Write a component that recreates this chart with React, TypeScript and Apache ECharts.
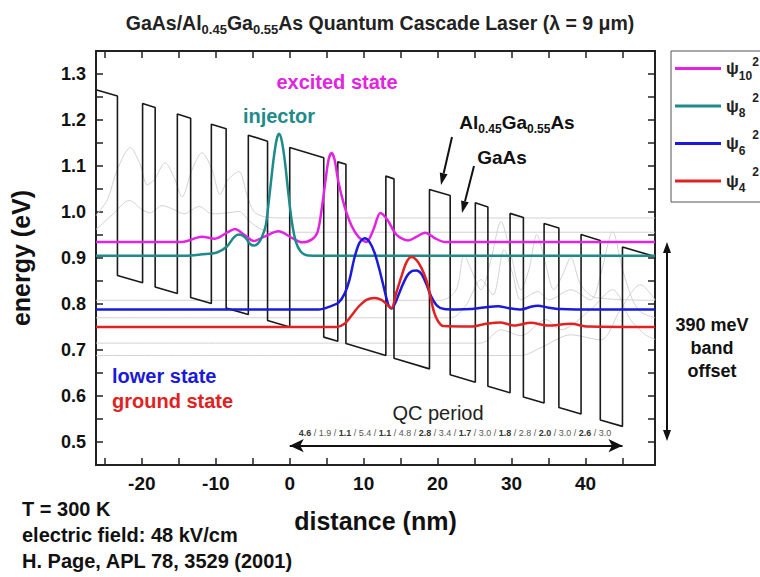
import React, { useEffect, useRef } from 'react';
import * as echarts from 'echarts';

const FONT = "'Liberation Sans', Arial, Helvetica, sans-serif";

// axis ticks / labels (nm)
const xTickValues = [-25, -20, -15, -10, -5, 0, 5, 10, 15, 20, 25, 30, 35, 40, 45];
const xLabelValues = [-20, -10, 0, 10, 20, 30, 40];

// conduction band edge vertices [distance nm, energy eV]
const bandEdge: [number, number][] = [
  [-26.1, 1.265], [-23.3, 1.252], [-23.3, 0.862], [-19.9, 0.846], [-19.9, 1.236], [-18.2, 1.227],
  [-18.2, 0.837], [-15.2, 0.823], [-15.2, 1.213], [-13.4, 1.204], [-13.4, 0.814], [-10.6, 0.801],
  [-10.6, 1.191], [-8.6, 1.181], [-8.6, 0.791], [-5.6, 0.777], [-5.6, 1.167], [-3.0, 1.154],
  [-3.0, 0.764], [0, 0.750], [0, 1.140], [4.6, 1.118], [4.6, 0.728], [6.5, 0.719], [6.5, 1.109],
  [7.6, 1.104], [7.6, 0.714], [13.0, 0.688], [13.0, 1.078], [14.1, 1.072], [14.1, 0.682],
  [18.9, 0.659], [18.9, 1.049], [21.7, 1.036], [21.7, 0.646], [25.1, 0.630], [25.1, 1.020],
  [26.8, 1.011], [26.8, 0.621], [29.8, 0.607], [29.8, 0.997], [31.6, 0.988], [31.6, 0.598],
  [34.4, 0.585], [34.4, 0.975], [36.4, 0.965], [36.4, 0.575], [39.4, 0.561], [39.4, 0.951],
  [42.0, 0.938], [42.0, 0.548], [45.0, 0.534], [45.0, 0.924], [49.4, 0.903],
];

// |psi|^2 curves offset by their energy
const psi10: [number, number][] = [
  [-26.2, 0.935], [-14.56, 0.935], [-11.86, 0.946], [-10.11, 0.942], [-8.49, 0.955], [-7.41, 0.963],
  [-6.2, 0.951], [-4.85, 0.937], [-3.5, 0.946], [-1.52, 0.958], [0.27, 0.944], [1.62, 0.934],
  [2.96, 0.94], [3.77, 0.957], [4.31, 1.005], [4.85, 1.07], [5.26, 1.114], [5.66, 1.128],
  [6.06, 1.114], [6.6, 1.064], [7.41, 1.012], [8.36, 0.97], [9.3, 0.946], [10.38, 0.935],
  [11.32, 0.962], [12.26, 0.998], [13.21, 0.983], [14.42, 0.951], [16.04, 0.938], [17.12, 0.946],
  [18.33, 0.955], [19.54, 0.944], [20.89, 0.935], [49.4, 0.935],
];
const psi8: [number, number][] = [
  [-26.2, 0.905], [-14.15, 0.905], [-11.86, 0.908], [-9.84, 0.912], [-8.49, 0.925], [-7.55, 0.945],
  [-6.87, 0.951], [-6.06, 0.945], [-5.39, 0.931], [-4.85, 0.927], [-4.31, 0.931], [-3.77, 0.945],
  [-3.23, 0.972], [-2.7, 1.042], [-2.16, 1.118], [-1.75, 1.159], [-1.44, 1.17], [-1.08, 1.155],
  [-0.67, 1.112], [-0.27, 1.053], [0.27, 0.981], [0.81, 0.936], [1.48, 0.914], [2.29, 0.906],
  [3.64, 0.905], [49.4, 0.905],
];
const psi6: [number, number][] = [
  [-26.2, 0.788], [3.91, 0.788], [5.66, 0.796], [6.6, 0.803], [7.41, 0.822], [8.09, 0.853],
  [8.76, 0.901], [9.43, 0.933], [10.15, 0.943], [10.78, 0.935], [11.46, 0.912], [12.13, 0.875],
  [12.8, 0.831], [13.34, 0.798], [13.75, 0.79], [14.29, 0.803], [15.09, 0.835], [15.9, 0.862],
  [16.58, 0.872], [17.12, 0.873], [17.79, 0.866], [18.46, 0.844], [19.14, 0.816], [19.95, 0.796],
  [20.89, 0.789], [22.51, 0.788], [24.53, 0.789], [26.55, 0.793], [28.17, 0.795], [29.65, 0.791],
  [31.27, 0.788], [32.61, 0.794], [33.56, 0.796], [35.04, 0.792], [36.66, 0.789], [38.68, 0.788],
  [49.4, 0.788],
];
const psi4: [number, number][] = [
  [-26.2, 0.75], [6.33, 0.75], [7.41, 0.757], [8.36, 0.775], [9.3, 0.794], [10.38, 0.809],
  [11.46, 0.813], [12.4, 0.809], [13.21, 0.798], [13.75, 0.791], [14.42, 0.825], [15.09, 0.859],
  [15.77, 0.89], [16.44, 0.902], [17.12, 0.896], [17.79, 0.879], [18.46, 0.853], [19.0, 0.818],
  [19.54, 0.781], [20.08, 0.762], [20.75, 0.752], [24.53, 0.751], [26.55, 0.757], [28.57, 0.76],
  [30.32, 0.753], [32.61, 0.759], [34.91, 0.753], [38.01, 0.757], [40.3, 0.751], [49.4, 0.75],
];

// faint states of neighbouring periods
const grayA: [number, number][] = [
  [-26.2, 0.992], [-24.66, 1.027], [-23.32, 1.092], [-21.56, 1.14], [-20.22, 1.103], [-19.27, 1.059],
  [-18.33, 1.07], [-16.85, 1.107], [-15.63, 1.075], [-14.56, 1.033], [-13.21, 1.092], [-11.86, 1.129],
  [-10.51, 1.092], [-9.43, 1.038], [-8.36, 1.07], [-6.87, 1.088], [-5.8, 1.038], [-4.85, 1.001],
  [-3.5, 0.99], [-1.08, 0.987], [49.4, 0.987],
];
const grayB: [number, number][] = [
  [-26.2, 0.962], [-23.99, 0.994], [-21.7, 1.025], [-19.95, 1.005], [-18.87, 0.998], [-17.25, 1.014],
  [-15.63, 1.005], [-14.29, 0.996], [-12.26, 1.012], [-10.51, 0.996], [-8.49, 0.998], [-6.87, 1.001],
  [-5.39, 0.979], [-3.77, 0.962], [-1.75, 0.956], [49.4, 0.956],
];
const grayC: [number, number][] = [
  [-26.2, 0.808], [20.49, 0.808], [22.51, 0.831], [23.58, 0.907], [24.53, 0.875], [25.88, 0.831],
  [27.22, 0.896], [28.57, 0.979], [29.92, 0.907], [31.27, 0.831], [32.35, 0.875], [33.42, 0.951],
  [34.64, 0.885], [35.71, 0.831], [36.93, 0.864], [38.01, 0.901], [39.35, 0.842], [41.37, 0.814],
  [49.4, 0.808],
];
const grayD: [number, number][] = [
  [-26.2, 0.77], [21.83, 0.77], [23.85, 0.798], [25.88, 0.853], [27.49, 0.82], [28.98, 0.918],
  [30.19, 0.864], [31.27, 0.809], [33.56, 0.827], [35.04, 0.809], [38.01, 0.831], [40.7, 0.809],
  [42.05, 0.864], [43.67, 0.957], [45.01, 0.875], [46.36, 0.809], [47.44, 0.783], [49.4, 0.77],
];
const grayE: [number, number][] = [
  [-26.2, 0.715], [25.88, 0.715], [28.57, 0.744], [31.27, 0.731], [34.64, 0.766], [36.66, 0.744],
  [40.7, 0.788], [43.67, 0.831], [46.09, 0.766], [48.11, 0.733], [49.4, 0.723],
];
const grayF: [number, number][] = [
  [-26.2, 0.688], [31.27, 0.688], [33.96, 0.705], [38.01, 0.733], [42.05, 0.722], [44.74, 0.788],
  [47.44, 0.842], [49.4, 0.809],
];

// layer sequence of one period (nm), barriers in bold
const layerThickness = ['4.6', '1.9', '1.1', '5.4', '1.1', '4.8', '2.8', '3.4', '1.7', '3.0', '1.8', '2.8', '2.0', '3.0', '2.6', '3.0'];
const layerIsBarrier = [true, false, true, false, true, false, true, false, true, false, true, false, true, false, true, false];
const qcPeriod = [0, 45];

const legendNames = ['psi10', 'psi8', 'psi6', 'psi4'];
const legendSub: Record<string, string> = { psi10: '10', psi8: '8', psi6: '6', psi4: '4' };

const C_MAG = '#e124e1';
const C_TEAL = '#1f8a8a';
const C_BLUE = '#1a1ad8';
const C_RED = '#e02222';
const C_AX = '#222222';

function arrowEls(x1: number, y1: number, x2: number, y2: number, color: string, w: number, hl: number, hw: number, both = false) {
  const dx = x2 - x1, dy = y2 - y1;
  const len = Math.hypot(dx, dy);
  const ux = dx / len, uy = dy / len;
  const px = -uy, py = ux;
  const els: any[] = [];
  const sx = both ? x1 + ux * hl : x1, sy = both ? y1 + uy * hl : y1;
  const ex = x2 - ux * hl, ey = y2 - uy * hl;
  els.push({ type: 'line', shape: { x1: sx, y1: sy, x2: ex, y2: ey }, style: { stroke: color, lineWidth: w } });
  els.push({ type: 'polygon', shape: { points: [[x2, y2], [ex + px * hw / 2, ey + py * hw / 2], [ex - px * hw / 2, ey - py * hw / 2]] }, style: { fill: color } });
  if (both) {
    els.push({ type: 'polygon', shape: { points: [[x1, y1], [sx + px * hw / 2, sy + py * hw / 2], [sx - px * hw / 2, sy - py * hw / 2]] }, style: { fill: color } });
  }
  return els;
}

function txt(text: string, x: number, y: number, size: number, color: string, align = 'left', weight = 'bold') {
  return {
    type: 'text',
    z: 100,
    style: {
      text, x, y, fill: color,
      fontSize: size, fontWeight: weight, fontFamily: FONT,
      align, textAlign: align, verticalAlign: 'middle', textVerticalAlign: 'middle',
    },
  };
}

function lineSeries(name: string, data: [number, number][], color: string, width: number, z: number, smooth: number | boolean) {
  return {
    type: 'line', name, data, z,
    symbol: 'none', showSymbol: false, smooth,
    lineStyle: { color, width },
    itemStyle: { color },
    emphasis: { disabled: true },
    silent: true,
  };
}

export default function App() {
  const ref = useRef<HTMLDivElement>(null);
  useEffect(() => {
    const chart = echarts.init(ref.current!, null, { renderer: 'svg' });

    const layerRich = layerThickness.map((t, i) => `{${layerIsBarrier[i] ? 'b' : 'n'}|${t}}`).join('{n| / }');

    const option: any = {
      animation: false,
      backgroundColor: '#ffffff',
      title: {
        text: '{a|GaAs/Al}{s|0.45}{a|Ga}{s|0.55}{a|As Quantum Cascade Laser (λ = 9 μm)}',
        left: 'center',
        top: 5,
        textStyle: {
          rich: {
            a: { fontSize: 19.5, fontWeight: 'bold', fontFamily: FONT, color: C_AX, lineHeight: 26 },
            s: { fontSize: 13, fontWeight: 'bold', fontFamily: FONT, color: C_AX, lineHeight: 12, verticalAlign: 'bottom' },
          },
        },
      },
      grid: { left: 94, right: 105, top: 51, bottom: 112, containLabel: false },
      legend: {
        data: legendNames,
        orient: 'vertical',
        left: 671,
        top: 51,
        padding: [9, 13, 8, 4],
        itemGap: 16,
        itemWidth: 46,
        itemHeight: 3,
        icon: 'rect',
        borderColor: '#555',
        borderWidth: 1,
        selectedMode: false,
        formatter: (name: string) => `{p|ψ}{s|${legendSub[name]}}`,
        textStyle: {
          rich: {
            p: { fontSize: 17, fontWeight: 'bold', fontFamily: FONT, color: C_AX, lineHeight: 26 },
            s: { fontSize: 12, fontWeight: 'bold', fontFamily: FONT, color: C_AX, lineHeight: 12, verticalAlign: 'bottom' },
          },
        },
      },
      xAxis: [
        {
          type: 'value', min: -26.2, max: 49.4, position: 'bottom',
          axisLine: { show: true, onZero: false, lineStyle: { color: C_AX, width: 2 } },
          axisTick: { show: true, inside: true, length: 7, customValues: xTickValues, lineStyle: { color: C_AX, width: 1.5 } },
          axisLabel: { customValues: xLabelValues, margin: 9, fontSize: 19, fontWeight: 'bold', fontFamily: FONT, color: '#111' },
          splitLine: { show: false },
          name: 'distance (nm)', nameLocation: 'middle', nameGap: 43,
          nameTextStyle: { fontSize: 25, fontWeight: 'bold', fontFamily: FONT, color: '#111' },
        },
        {
          type: 'value', min: -26.2, max: 49.4, position: 'top',
          axisLine: { show: true, onZero: false, lineStyle: { color: C_AX, width: 2 } },
          axisTick: { show: true, inside: true, length: 7, customValues: xTickValues, lineStyle: { color: C_AX, width: 1.5 } },
          axisLabel: { show: false },
          splitLine: { show: false },
        },
      ],
      yAxis: [
        {
          type: 'value', min: 0.45, max: 1.35, interval: 0.05, position: 'left',
          axisLine: { show: true, onZero: false, lineStyle: { color: C_AX, width: 2 } },
          axisTick: { show: true, inside: true, length: 7, lineStyle: { color: C_AX, width: 1.5 } },
          axisLabel: {
            margin: 10, fontSize: 18, fontWeight: 'bold', fontFamily: FONT, color: '#111',
            formatter: (v: number) => { const r = Math.round(v * 100); return r % 10 === 0 ? (r / 100).toFixed(1) : ''; },
          },
          splitLine: { show: false },
          name: 'energy (eV)', nameLocation: 'middle', nameGap: 63,
          nameTextStyle: { fontSize: 25, fontWeight: 'bold', fontFamily: FONT, color: '#111' },
        },
        {
          type: 'value', min: 0.45, max: 1.35, interval: 0.05, position: 'right',
          axisLine: { show: true, onZero: false, lineStyle: { color: C_AX, width: 2 } },
          axisTick: { show: true, inside: true, length: 7, lineStyle: { color: C_AX, width: 1.5 } },
          axisLabel: { show: false },
          splitLine: { show: false },
        },
      ],
      series: [
        lineSeries('grayA', grayA, '#d2d2d2', 1, 1, 0.3),
        lineSeries('grayB', grayB, '#d2d2d2', 1, 1, 0.3),
        lineSeries('grayC', grayC, '#d2d2d2', 1, 1, 0.3),
        lineSeries('grayD', grayD, '#d2d2d2', 1, 1, 0.3),
        lineSeries('grayE', grayE, '#d2d2d2', 1, 1, 0.3),
        lineSeries('grayF', grayF, '#d2d2d2', 1, 1, 0.3),
        {
          ...lineSeries('band', bandEdge, '#1a1a1a', 1.6, 3, false),
          markLine: {
            silent: true,
            symbol: ['arrow', 'arrow'],
            symbolSize: [10, 14],
            label: { show: false },
            lineStyle: { color: '#111', width: 2, type: 'solid' },
            data: [[{ coord: [qcPeriod[0], 0.492] }, { coord: [qcPeriod[1], 0.492] }]],
          },
        },
        lineSeries('psi10', psi10, C_MAG, 2.5, 5, 0.3),
        lineSeries('psi8', psi8, C_TEAL, 2.5, 5, 0.3),
        lineSeries('psi6', psi6, C_BLUE, 2.5, 5, 0.3),
        lineSeries('psi4', psi4, C_RED, 2.5, 5, 0.3),
      ],
      graphic: [
        txt('2', 755.5, 61.5, 12, C_AX, 'center'),
        txt('2', 755.5, 98, 12, C_AX, 'center'),
        txt('2', 755.5, 135, 12, C_AX, 'center'),
        txt('2', 755.5, 171.5, 12, C_AX, 'center'),
        txt('excited state', 337, 82, 20, C_MAG, 'center'),
        txt('injector', 279, 116, 20, C_TEAL, 'center'),
        {
          type: 'text', z: 100,
          style: {
            text: '{a|Al}{s|0.45}{a|Ga}{s|0.55}{a|As}', x: 517, y: 122,
            align: 'center', textAlign: 'center', verticalAlign: 'middle', textVerticalAlign: 'middle',
            rich: {
              a: { fontSize: 19, fontWeight: 'bold', fontFamily: FONT, fill: '#111', lineHeight: 26 },
              s: { fontSize: 12, fontWeight: 'bold', fontFamily: FONT, fill: '#111', lineHeight: 12, verticalAlign: 'bottom' },
            },
          },
        },
        txt('GaAs', 502, 157, 19, '#111', 'center'),
        ...arrowEls(452, 137, 441, 185, '#111', 2, 12, 8),
        ...arrowEls(474, 166, 462, 213, '#111', 2, 12, 8),
        txt('lower state', 112, 376, 20, C_BLUE, 'left'),
        txt('ground state', 112, 401, 20, C_RED, 'left'),
        txt('QC period', 438, 413, 20, '#222', 'center', 'normal'),
        {
          type: 'text', z: 100,
          style: {
            text: layerRich, x: 455, y: 433,
            align: 'center', textAlign: 'center', verticalAlign: 'middle', textVerticalAlign: 'middle',
            rich: {
              b: { fontSize: 9, fontWeight: 'bold', fontFamily: FONT, fill: '#333' },
              n: { fontSize: 9, fontWeight: 'normal', fontFamily: FONT, fill: '#555' },
            },
          },
        },
        ...arrowEls(667, 242, 667, 441, '#111', 2, 11, 8, true),
        txt('390 meV', 712, 325, 18, '#111', 'center'),
        txt('band', 712, 348, 18, '#111', 'center'),
        txt('offset', 712, 371, 18, '#111', 'center'),
        txt('T = 300 K', 22, 509, 20, '#111', 'left'),
        txt('electric field: 48 kV/cm', 22, 535, 20, '#111', 'left'),
        txt('H. Page, APL 78, 3529 (2001)', 22, 561, 20, '#111', 'left'),
      ],
    };
    chart.setOption(option);
    return () => chart.dispose();
  }, []);
  return <div ref={ref} style={{ position: 'fixed', left: 0, top: 0, width: 760, height: 577 }} />;
}
